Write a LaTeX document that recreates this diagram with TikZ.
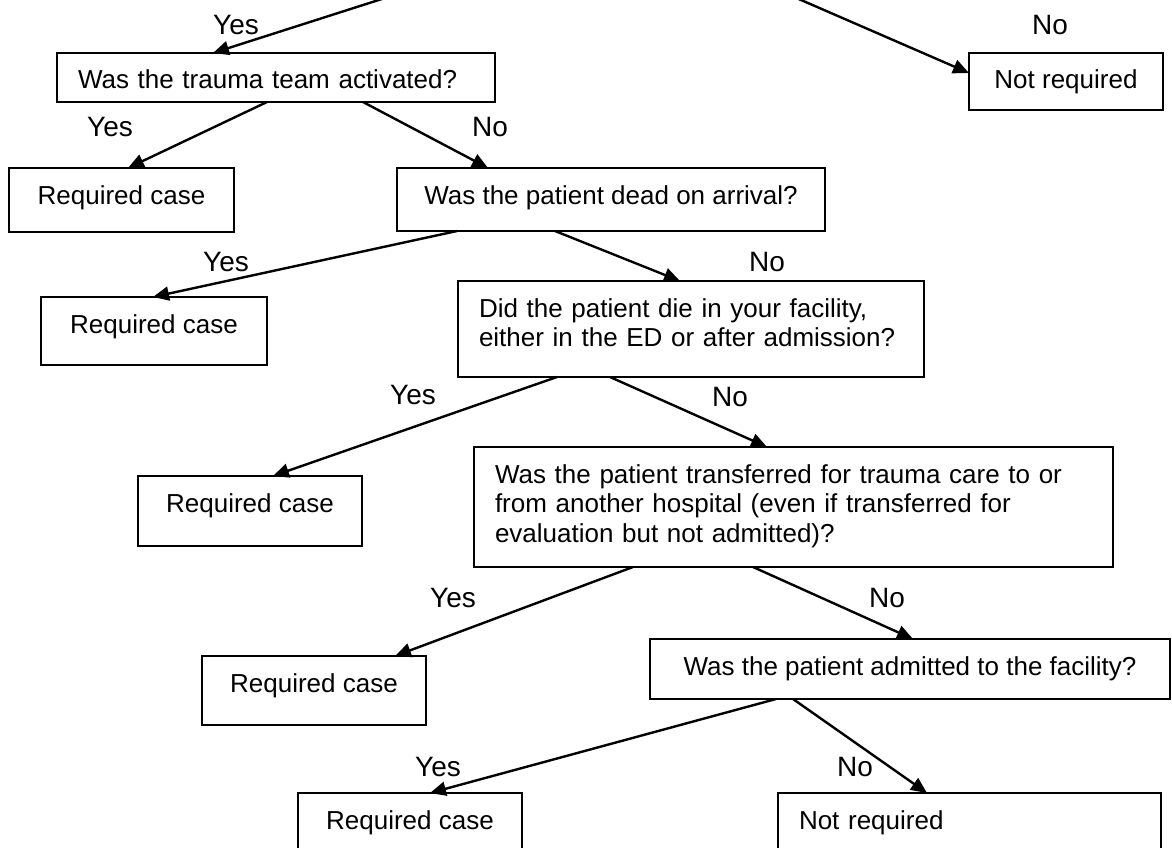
\documentclass[tikz,border=0pt]{standalone}
\usepackage{fontspec}
\setmainfont{Liberation Sans}
\usetikzlibrary{arrows.meta}

\begin{document}
\begin{tikzpicture}[x=1pt,y=-1pt,
    font=\fontsize{26pt}{29.5pt}\selectfont,
    rbox/.style={draw,line width=2.3pt,anchor=north west,outer sep=0pt,inner ysep=0pt,text height=36pt},
    cbox/.style={rbox,inner xsep=0pt,minimum width=#1},
    lbox/.style={rbox,inner xsep=21pt,text width=#1,align=left},
    lab/.style={inner sep=0pt,font=\fontsize{28pt}{30pt}\selectfont},
    conn/.style={line width=2.4pt,-{Triangle[length=16pt,width=14pt]}}]
\useasboundingbox (0,0) rectangle (1172,848);
\clip (0,0) rectangle (1172,848);
\coordinate (t1) at (410,-10);
\coordinate (t2) at (778,-10);
\node[lbox=396pt,text depth=13pt] (q1) at (57,53) {Was the trauma team activated?};
\node[cbox=194pt,text depth=21pt] (nr1) at (969,53) {Not required};
\node[cbox=225pt,text depth=28pt] (rc1) at (9,168) {Required case};
\node[cbox=428pt,text depth=27pt] (q2) at (397,168) {Was the patient dead on arrival?};
\node[cbox=226pt,text depth=32pt] (rc2) at (41,297) {Required case};
\node[lbox=424pt,text depth=60pt] (q3) at (458,281) {Did the patient die in your facility,\\either in the ED or after admission?};
\node[cbox=224pt,text depth=34pt] (rc3) at (138,476) {Required case};
\node[lbox=597pt,text depth=84pt] (q4) at (474,447) {Was the patient transferred for trauma care to or\\from another hospital (even if transferred for\\evaluation but not admitted)?};
\node[cbox=224pt,text depth=33pt] (rc4) at (202,656) {Required case};
\node[cbox=520pt,text depth=24pt] (q5) at (650,639) {Was the patient admitted to the facility?};
\node[cbox=224pt,text depth=33pt] (rc5) at (298,793) {Required case};
\node[lbox=341pt,text depth=33pt] (nr2) at (778,793) {Not required};
\node[lab] (y1) at (236,25) {Yes};
\node[lab] (n1) at (1050,25) {No};
\node[lab] (y2) at (110,127) {Yes};
\node[lab] (n2) at (490,127) {No};
\node[lab] (y3) at (226,262) {Yes};
\node[lab] (n3) at (767,262) {No};
\node[lab] (y4) at (413,395) {Yes};
\node[lab] (n4) at (730,397) {No};
\node[lab] (y5) at (453,598) {Yes};
\node[lab] (n5) at (887,598) {No};
\node[lab] (y6) at (438,767) {Yes};
\node[lab] (n6) at (855,767) {No};
\draw[conn] (t1) -- ([xshift=156pt]q1.north west);
\draw[conn] (t2) -- ([yshift=-20pt]nr1.north west);
\draw[conn] ([xshift=210pt]q1.south west) -- ([xshift=119pt]rc1.north west);
\draw[conn] ([xshift=306pt]q1.south west) -- ([xshift=91pt]q2.north west);
\draw[conn] ([xshift=60pt]q2.south west) -- ([xshift=112pt]rc2.north west);
\draw[conn] ([xshift=158pt]q2.south west) -- ([xshift=222pt]q3.north west);
\draw[conn] ([xshift=99pt]q3.south west) -- ([xshift=135pt]rc3.north west);
\draw[conn] ([xshift=152pt]q3.south west) -- ([xshift=293pt]q4.north west);
\draw[conn] ([xshift=159pt]q4.south west) -- ([xshift=193pt]rc4.north west);
\draw[conn] ([xshift=279pt]q4.south west) -- ([xshift=263pt]q5.north west);
\draw[conn] ([xshift=126pt]q5.south west) -- ([xshift=132pt]rc5.north west);
\draw[conn] ([xshift=143pt]q5.south west) -- ([xshift=149pt]nr2.north west);
\end{tikzpicture}
\end{document}
